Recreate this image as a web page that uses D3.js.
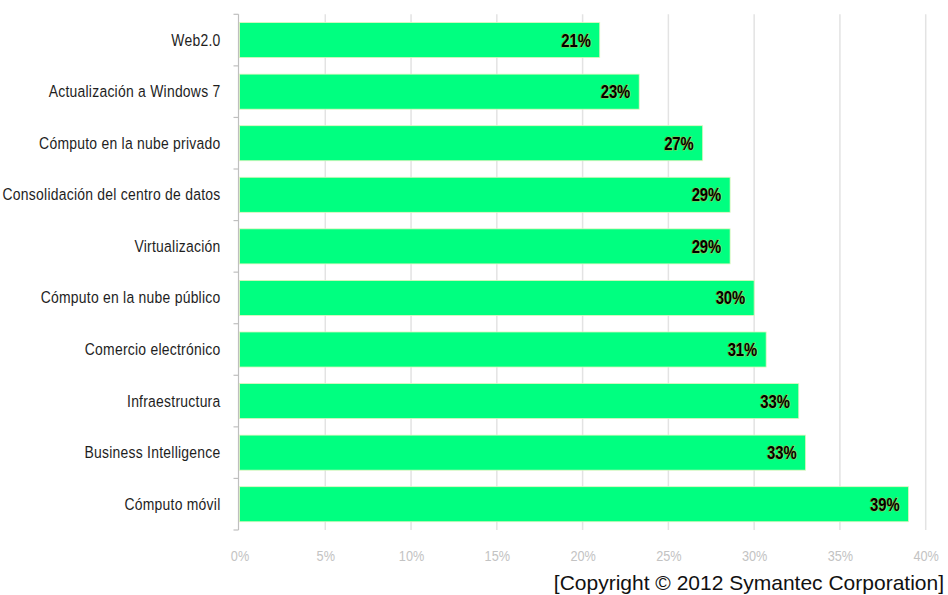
<!DOCTYPE html>
<html>
<head>
<meta charset="utf-8">
<script src="https://cdn.jsdelivr.net/npm/d3@7"></script>
<style>
  html, body { margin: 0; padding: 0; background: #ffffff; }
  svg { display: block; }
</style>
</head>
<body>
<svg id="chart" width="948" height="595"></svg>
<script>
// ---- data ----
const categories = [
  "Web2.0",
  "Actualización a Windows 7",
  "Cómputo en la nube privado",
  "Consolidación del centro de datos",
  "Virtualización",
  "Cómputo en la nube público",
  "Comercio electrónico",
  "Infraestructura",
  "Business Intelligence",
  "Cómputo móvil"
];
const values = [21.0, 23.3, 27.0, 28.6, 28.6, 30.0, 30.7, 32.6, 33.0, 39.0];
const valueLabels = ["21%", "23%", "27%", "29%", "29%", "30%", "31%", "33%", "33%", "39%"];
const xTicks = [0, 5, 10, 15, 20, 25, 30, 35, 40];
const copyright = "[Copyright © 2012 Symantec Corporation]";

// ---- layout ----
const mLeft = 239.5, mRight = 925.7, mTop = 14.3, mBottom = 530;
const sans = "'Liberation Sans', Arial, sans-serif";
const squeeze = 0.82; // horizontal condensing of label glyphs

const svg = d3.select("#chart");

const x = d3.scaleLinear().domain([0, 40]).range([mLeft, mRight]);
const y = d3.scaleBand().domain(categories).range([mTop, mBottom])
  .paddingInner(0.32).paddingOuter(0.16);

// gridlines
svg.append("g").selectAll("line")
  .data(xTicks.filter(d => d > 0))
  .join("line")
  .attr("x1", d => x(d)).attr("x2", d => x(d))
  .attr("y1", mTop).attr("y2", mBottom)
  .attr("stroke", "#e3e3e3").attr("stroke-width", 1.5);

// bars
svg.append("g").selectAll("rect")
  .data(values)
  .join("rect")
  .attr("x", x(0))
  .attr("y", (d, i) => y(categories[i]))
  .attr("width", d => x(d) - x(0))
  .attr("height", y.bandwidth())
  .attr("fill", "#00ff80")
  .attr("stroke", "#e6f5c0")
  .attr("stroke-width", 0.8);

// y axis
const yAxis = d3.axisLeft(y).tickSize(0).tickPadding(0);
const gy = svg.append("g").attr("transform", `translate(${mLeft - 1},0)`).call(yAxis);
gy.select(".domain").attr("stroke", "#bfbfbf").attr("stroke-width", 1.2)
  .attr("d", `M0,${mTop}V${mBottom}`);
gy.selectAll(".tick text")
  .attr("x", 0)
  .attr("transform", `translate(-18,0) scale(${squeeze},1)`)
  .attr("font-family", sans).attr("font-size", 17).attr("letter-spacing", 0.3)
  .attr("fill", "#1e1e1e");

// boundary tick marks on y axis
const bounds = d3.range(categories.length + 1).map(i => mTop + i * y.step());
svg.append("g").selectAll("line")
  .data(bounds)
  .join("line")
  .attr("x1", mLeft - 6).attr("x2", mLeft - 1)
  .attr("y1", d => d).attr("y2", d => d)
  .attr("stroke", "#bfbfbf").attr("stroke-width", 1.2);

// x axis labels
const xAxis = d3.axisBottom(x).tickValues(xTicks).tickFormat(d => d + "%").tickSize(0).tickPadding(0);
const gx = svg.append("g").attr("transform", `translate(0,${mBottom + 20})`).call(xAxis);
gx.select(".domain").remove();
gx.selectAll(".tick text")
  .attr("y", 0)
  .attr("transform", `scale(${squeeze},1)`)
  .attr("font-family", sans).attr("font-size", 15.5).attr("fill", "#c3c3c3")
  .attr("dy", "0.71em");

// value labels
svg.append("g").selectAll("text")
  .data(values)
  .join("text")
  .attr("transform", (d, i) => `translate(${x(d) - 9},${y(categories[i]) + y.bandwidth() / 2}) scale(${squeeze},1)`)
  .attr("dy", "0.36em")
  .attr("text-anchor", "end")
  .attr("font-family", sans).attr("font-size", 18).attr("font-weight", "bold")
  .attr("fill", "#000000")
  .attr("stroke", "#d99a2e").attr("stroke-width", 1.2).attr("stroke-opacity", 0.7)
  .attr("paint-order", "stroke")
  .text((d, i) => valueLabels[i]);

// copyright
svg.append("text")
  .attr("x", 944).attr("y", 590)
  .attr("text-anchor", "end")
  .attr("font-family", sans)
  .attr("font-size", 21).attr("fill", "#111111")
  .text(copyright);
</script>
</body>
</html>
